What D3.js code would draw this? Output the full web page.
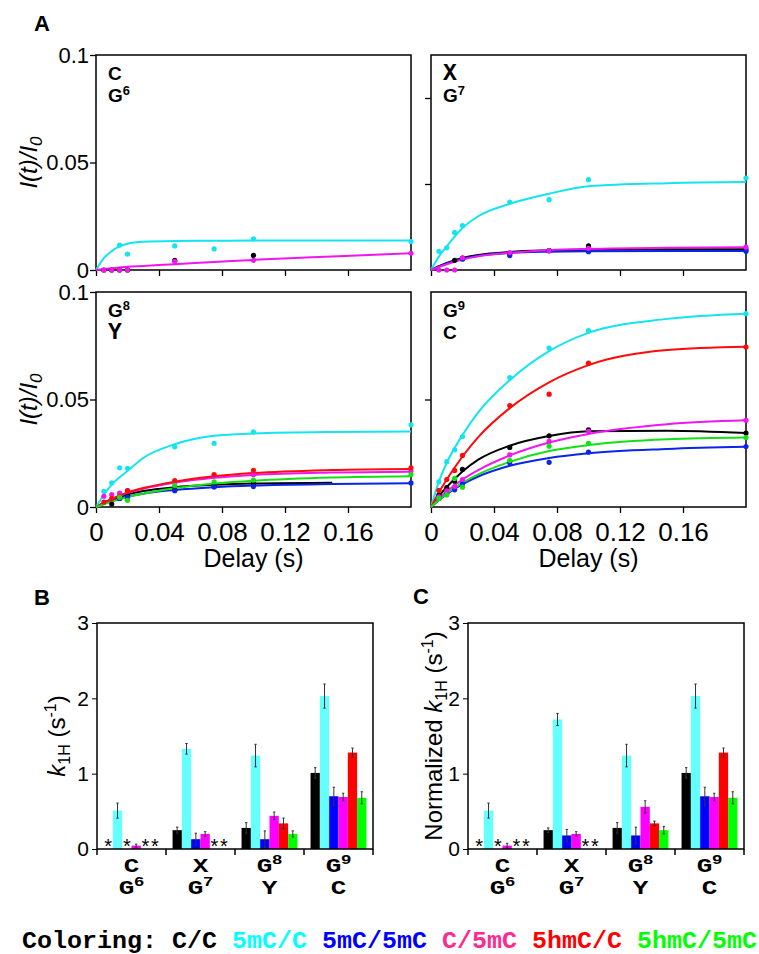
<!DOCTYPE html>
<meta charset="utf-8">
<style>
    body { margin: 0; background: #fff; }
</style>
<script src="https://d3js.org/d3.v7.min.js"></script>
<body>
<script>

    var width = 759
    var height = 954

    // ---- data ----
    var series = ["C/C", "5mC/C", "5mC/5mC", "C/5mC", "5hmC/C", "5hmC/5mC"]

    var delays = [0.005, 0.01, 0.015, 0.02, 0.05, 0.075, 0.1, 0.2]
    var fitDelays = [0, 0.005, 0.01, 0.02, 0.03, 0.05, 0.075, 0.1, 0.15, 0.2]

    // I(t)/I0, one row per series (null = not shown)
    var g6Points = [
        [0, 0, 0, 0, 0.0045, null, 0.0068, null],
        [null, null, 0.0116, 0.0074, 0.0112, 0.0098, 0.0145, 0.0132],
        null,
        [0, 0, 0, 0, 0.004, null, 0.0045, 0.0078],
        null,
        null
    ]
    var g6Fit = [
        null,
        [0, 0.0055, 0.0088, 0.0122, 0.0131, 0.0135, 0.0136, 0.0137, 0.0137, 0.0137],
        null,
        [0, 0.0004, 0.0008, 0.0015, 0.0019, 0.0027, 0.0037, 0.0047, 0.0063, 0.0078],
        null,
        null
    ]

    var g7Points = [
        [null, null, 0.0045, 0.0055, 0.0075, 0.009, 0.0112, 0.0095],
        [0.0087, 0.0103, 0.0175, 0.0207, 0.0316, 0.0327, 0.042, 0.0428],
        [null, null, null, 0.005, 0.0067, 0.009, 0.0085, 0.0087],
        [0, 0, 0, 0.0057, 0.0081, 0.009, 0.0101, 0.0106],
        null,
        null
    ]
    var g7Fit = [
        [0, 0.0018, 0.0033, 0.0056, 0.007, 0.0084, 0.0091, 0.0094, 0.0096, 0.0096],
        [0, 0.0062, 0.011, 0.0195, 0.025, 0.0308, 0.0355, 0.039, 0.0404, 0.0409],
        [0, 0.0016, 0.003, 0.0052, 0.0066, 0.0079, 0.0085, 0.0087, 0.0088, 0.0088],
        [0, 0.0014, 0.0027, 0.0049, 0.0064, 0.008, 0.0092, 0.0098, 0.0104, 0.0106],
        null,
        null
    ]

    var g8Points = [
        [null, 0.0014, 0.004, 0.005, 0.008, 0.0095, 0.0108, null],
        [0.0073, 0.0112, 0.0182, 0.018, 0.028, 0.0296, 0.0349, 0.0382],
        [null, null, 0.004, 0.0045, 0.0076, 0.0093, 0.0095, 0.0112],
        [0.005, 0.0058, 0.0065, 0.0076, 0.0117, 0.0145, 0.015, 0.0167],
        [0.0023, 0.004, 0.005, 0.0076, 0.0123, 0.0151, 0.0171, 0.0182],
        [null, null, 0.0045, 0.0031, 0.0101, 0.0117, 0.0125, 0.0151]
    ]
    var g8Fit = [
        [0, 0.0018, 0.0034, 0.0058, 0.0074, 0.0092, 0.0103, 0.0109, 0.0113, null],
        [0, 0.0057, 0.0104, 0.0167, 0.0228, 0.0292, 0.0331, 0.0342, 0.0349, 0.0351],
        [0, 0.0015, 0.0028, 0.0048, 0.0062, 0.0079, 0.0092, 0.01, 0.0107, 0.011],
        [0, 0.002, 0.0037, 0.0065, 0.0085, 0.0113, 0.0136, 0.0149, 0.016, 0.0164],
        [0, 0.002, 0.0038, 0.0067, 0.0088, 0.0118, 0.0143, 0.0158, 0.0172, 0.0177],
        [0, 0.0013, 0.0025, 0.0046, 0.0062, 0.0087, 0.0109, 0.0122, 0.0137, 0.0143]
    ]

    var g9Points = [
        [0.0055, 0.009, 0.012, 0.0175, 0.0277, 0.0331, 0.0359, 0.0344],
        [0.0117, 0.0211, 0.0266, 0.0328, 0.0602, 0.0739, 0.082, 0.0899],
        [0.004, 0.0063, 0.008, 0.0109, 0.0206, 0.0208, 0.0255, 0.0281],
        [0.0047, 0.0075, 0.0095, 0.0128, 0.0242, 0.0305, 0.0352, 0.0403],
        [0.0078, 0.0128, 0.017, 0.024, 0.0472, 0.0525, 0.0669, 0.0744],
        [0.004, 0.0056, 0.0133, 0.0092, 0.0217, 0.0283, 0.0296, 0.0323]
    ]
    var g9Fit = [
        [0, 0.005, 0.0093, 0.0165, 0.022, 0.0285, 0.033, 0.0352, 0.0355, 0.0344],
        [0, 0.0118, 0.0205, 0.0335, 0.044, 0.059, 0.0725, 0.081, 0.0875, 0.0899],
        [0, 0.0032, 0.006, 0.0106, 0.0142, 0.0192, 0.0228, 0.025, 0.027, 0.028],
        [0, 0.0038, 0.0072, 0.0128, 0.0172, 0.024, 0.03, 0.034, 0.0385, 0.0403],
        [0, 0.0068, 0.0128, 0.0235, 0.0325, 0.046, 0.058, 0.066, 0.073, 0.0745],
        [0, 0.0033, 0.0063, 0.0113, 0.0152, 0.021, 0.026, 0.0288, 0.0315, 0.0323]
    ]

    // bar charts: groups and k1H rates (null = "*", not measurable)
    var groupTop = ["C", "X", "G8", "G9"]
    var groupBottom = ["G6", "G7", "Y", "C"]

    var kRate = [
        [null, 0.25, 0.28, 1.01],
        [0.51, 1.33, 1.24, 2.03],
        [null, 0.13, 0.13, 0.70],
        [0.045, 0.20, 0.44, 0.69],
        [null, null, 0.34, 1.28],
        [null, null, 0.20, 0.68]
    ]
    var kRateErr = [
        [null, 0.04, 0.07, 0.07],
        [0.1, 0.07, 0.15, 0.16],
        [null, 0.08, 0.11, 0.12],
        [0.02, 0.03, 0.05, 0.05],
        [null, null, 0.07, 0.06],
        [null, null, 0.04, 0.08]
    ]
    var kNorm = [
        [null, 0.25, 0.28, 1.01],
        [0.51, 1.72, 1.24, 2.03],
        [null, 0.18, 0.18, 0.70],
        [0.045, 0.20, 0.56, 0.69],
        [null, null, 0.34, 1.28],
        [null, null, 0.25, 0.68]
    ]
    var kNormErr = [
        [null, 0.03, 0.07, 0.07],
        [0.1, 0.08, 0.15, 0.16],
        [null, 0.08, 0.11, 0.12],
        [0.03, 0.03, 0.08, 0.05],
        [null, null, 0.03, 0.06],
        [null, null, 0.05, 0.08]
    ]

    var xTicks = [0, 0.04, 0.08, 0.12, 0.16]
    var yTicksLeft = [0, 0.05, 0.1]
    var kTicks = [0, 1, 2, 3]

    // ---- styles ----
    var lineColors = ["#000000", "#14e4f0", "#0a24e8", "#f016f0", "#ff0a0a", "#14e014"]
    var barColors = ["#000000", "#66ffff", "#0000ff", "#ff00ff", "#ff0000", "#00ff00"]
    var legendColors = ["#000000", "#00ffff", "#0000ff", "#ff2a8e", "#ff0000", "#00ff00"]

    var SANS = "Liberation Sans, Arial, sans-serif"
    var MONO = "Liberation Mono, Courier New, monospace"

    var svg = d3.select("body")
        .append("svg")
        .attr("width", width)
        .attr("height", height)
        .attr("font-family", SANS)

    function isMono(letter) { return letter == "X" || letter == "Y" }

    // letter with optional superscript digits, e.g. "G8"
    function labelText(parent, x, y, code, size, mono, anchor, stretch) {
        var m = code.match(/^([A-Z])(\d*)$/)
        var g = parent.append("g")
            .attr("transform", "translate(" + x + "," + y + ") scale(" + (stretch || 1) + ",1)")
        var t = g.append("text")
            .attr("text-anchor", anchor || "start")
            .attr("font-weight", "bold")
            .attr("font-size", size)
            .attr("font-family", mono ? MONO : SANS)
        t.append("tspan").text(m[1])
        if (m[2])
            t.append("tspan")
                .attr("font-family", SANS)
                .attr("font-size", size * 0.68)
                .attr("dy", -size * 0.38)
                .text(m[2])
    }

    // ---- panel A: build-up curves ----
    var pw = 315, ph = 215

    var panels = [
        { pts: g6Points, fit: g6Fit, x: 96, y: 55, l1: "C", l2: "G6", left: true, bottom: false },
        { pts: g7Points, fit: g7Fit, x: 431, y: 55, l1: "X", l2: "G7", left: false, bottom: false, yt: [0.04, 0.08] },
        { pts: g8Points, fit: g8Fit, x: 96, y: 292, l1: "G8", l2: "Y", left: true, bottom: true },
        { pts: g9Points, fit: g9Fit, x: 431, y: 292, l1: "G9", l2: "C", left: false, bottom: true, yt: [0.05] }
    ]

    panels.forEach(function (p) {
        var x = d3.scaleLinear().domain([0, 0.2]).range([p.x, p.x + pw])
        var y = d3.scaleLinear().domain([0, 0.1]).range([p.y + ph, p.y])
        var g = svg.append("g")

        var xa = g.append("g")
            .attr("transform", "translate(0," + (p.y + ph) + ")")
            .call(d3.axisBottom(x).tickValues(xTicks).tickSize(6).tickSizeOuter(0)
                .tickFormat(p.bottom ? d3.format("") : ""))
        xa.attr("font-family", SANS).attr("font-size", 26)
        xa.selectAll("text").attr("dy", "0.95em")

        var ya = g.append("g")
            .attr("transform", "translate(" + p.x + ",0)")
            .call(d3.axisLeft(y).tickValues(p.left ? yTicksLeft : p.yt).tickSize(6).tickSizeOuter(0)
                .tickFormat(p.left ? d3.format("") : ""))
        ya.attr("font-family", SANS).attr("font-size", 22)
        ya.selectAll("text").attr("x", -7)
        g.selectAll(".domain").remove()
        g.selectAll(".tick line").attr("stroke-width", 1.3)

        g.append("rect")
            .attr("x", p.x).attr("y", p.y)
            .attr("width", pw).attr("height", ph)
            .attr("fill", "none").attr("stroke", "#000").attr("stroke-width", 1.5)

        var line = d3.line()
            .defined(function (d) { return d[1] != null })
            .x(function (d) { return x(d[0]) })
            .y(function (d) { return y(d[1]) })
            .curve(d3.curveMonotoneX)

        p.fit.forEach(function (row, i) {
            if (!row) return
            g.append("path")
                .datum(row.map(function (v, j) { return [fitDelays[j], v] }))
                .attr("d", line)
                .attr("fill", "none")
                .attr("stroke", lineColors[i])
                .attr("stroke-width", 2)
        })

        p.pts.forEach(function (row, i) {
            if (!row) return
            g.selectAll(null)
                .data(row.map(function (v, j) { return [delays[j], v] }).filter(function (d) { return d[1] != null }))
                .enter()
                .append("circle")
                .attr("cx", function (d) { return x(d[0]) })
                .attr("cy", function (d) { return y(d[1]) })
                .attr("r", 2.6)
                .attr("fill", lineColors[i])
        })

        labelText(g, p.x + 12, p.y + 25, p.l1, isMono(p.l1) ? 23 : 19, isMono(p.l1))
        labelText(g, p.x + 12, p.y + 47, p.l2, isMono(p.l2) ? 23 : 19, isMono(p.l2))

        if (p.left) {
            var yl = g.append("text")
                .attr("transform", "translate(37," + (p.y + ph / 2) + ") rotate(-90)")
                .attr("text-anchor", "middle")
                .attr("font-size", 24)
                .attr("font-style", "italic")
            yl.append("tspan").text("I(t)/I")
            yl.append("tspan").attr("font-size", 17).attr("dy", 5).text("0")
        }
        if (p.bottom) {
            g.append("text")
                .attr("x", p.x + pw / 2).attr("y", 567)
                .attr("text-anchor", "middle")
                .attr("font-size", 25)
                .text("Delay (s)")
        }
    })

    // ---- panels B and C: rate constants ----
    function drawBars(x0px, rates, errs, yLabelX, normalized) {
        var bw = 276
        var y = d3.scaleLinear().domain([0, 3]).range([849, 623])
        var xg = d3.scaleBand().domain(d3.range(groupTop.length)).range([x0px, x0px + bw])
        var xs = d3.scaleBand().domain(d3.range(series.length))
            .range([xg.bandwidth() * 0.095, xg.bandwidth() * 0.905])
        var g = svg.append("g")

        series.forEach(function (s, i) {
            rates[i].forEach(function (v, j) {
                var cx = xg(j) + xs(i) + xs.bandwidth() / 2
                if (v == null) {
                    g.append("text")
                        .attr("x", cx).attr("y", 853)
                        .attr("text-anchor", "middle")
                        .attr("font-size", 20)
                        .text("*")
                    return
                }
                g.append("rect")
                    .attr("x", xg(j) + xs(i))
                    .attr("y", y(v))
                    .attr("width", xs.bandwidth())
                    .attr("height", y(0) - y(v))
                    .attr("fill", barColors[i])
                var e = errs[i][j]
                var ep = d3.path()
                ep.moveTo(cx, y(v - e)); ep.lineTo(cx, y(v + e))
                ep.moveTo(cx - 1.2, y(v + e)); ep.lineTo(cx + 1.2, y(v + e))
                ep.moveTo(cx - 1.2, y(v - e)); ep.lineTo(cx + 1.2, y(v - e))
                g.append("path").attr("d", ep.toString())
                    .attr("stroke", "#333").attr("stroke-width", 1).attr("fill", "none")
            })
        })

        g.append("rect")
            .attr("x", x0px).attr("y", 623)
            .attr("width", bw).attr("height", 226)
            .attr("fill", "none").attr("stroke", "#000").attr("stroke-width", 1.5)

        var ya = g.append("g")
            .attr("transform", "translate(" + x0px + ",0)")
            .call(d3.axisLeft(y).tickValues(kTicks).tickSize(5).tickSizeOuter(0).tickFormat(d3.format("d")))
        ya.attr("font-family", SANS).attr("font-size", 21)
        ya.selectAll("text").attr("x", -8)
        ya.select(".domain").remove()

        // group boundaries on the x axis
        g.selectAll(null)
            .data(d3.range(groupTop.length + 1))
            .enter()
            .append("line")
            .attr("x1", function (d) { return x0px + d * xg.step() })
            .attr("x2", function (d) { return x0px + d * xg.step() })
            .attr("y1", 849).attr("y2", 855)
            .attr("stroke", "#000").attr("stroke-width", 1.5)

        groupTop.forEach(function (c, j) {
            var cx = xg(j) + xg.bandwidth() / 2
            labelText(g, cx, 872, c, 20, true, "middle", 1.3)
            labelText(g, cx, 894, groupBottom[j], 20, true, "middle", 1.3)
        })

        var yl = g.append("text")
            .attr("transform", "translate(" + yLabelX + ",736) rotate(-90)")
            .attr("text-anchor", "middle")
            .attr("font-size", 24)
        if (normalized) yl.append("tspan").text("Normalized ")
        yl.append("tspan").attr("font-style", "italic").text("k")
        yl.append("tspan").attr("font-size", 16).attr("dy", 5).text("1H")
        yl.append("tspan").attr("dy", -5).text(" (s")
        yl.append("tspan").attr("font-size", 16).attr("dy", -9).text("-1")
        yl.append("tspan").attr("dy", 9).text(")")
    }

    drawBars(97, kRate, kRateErr, 65, false)
    drawBars(468, kNorm, kNormErr, 442, true)

    // panel letters
    svg.append("text").attr("x", 34).attr("y", 31).attr("font-size", 22).attr("font-weight", "bold").text("A")
    svg.append("text").attr("x", 34).attr("y", 605).attr("font-size", 22).attr("font-weight", "bold").text("B")
    svg.append("text").attr("x", 413).attr("y", 604).attr("font-size", 22).attr("font-weight", "bold").text("C")

    // colour legend
    var legend = svg.append("text")
        .attr("x", 22).attr("y", 948)
        .attr("font-family", MONO)
        .attr("font-weight", "bold")
        .attr("font-size", 24)
        .attr("textLength", 735)
        .attr("lengthAdjust", "spacingAndGlyphs")
    legend.append("tspan").text("Coloring:")
    series.forEach(function (s, i) {
        legend.append("tspan").attr("fill", legendColors[i]).text(" " + s)
    })

</script>
